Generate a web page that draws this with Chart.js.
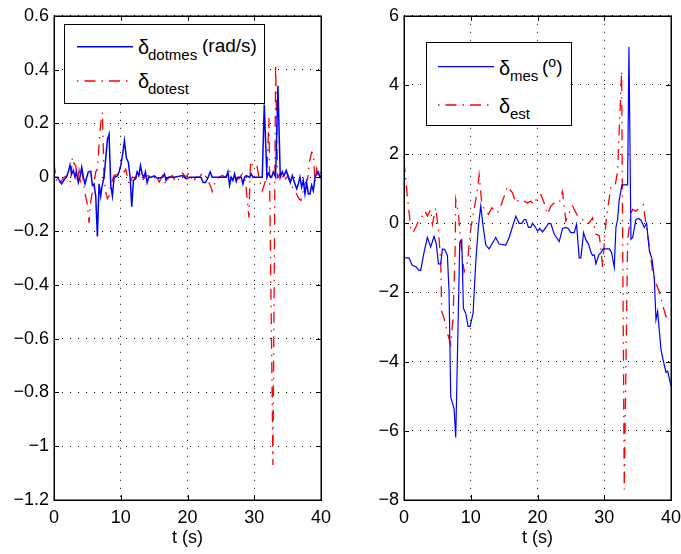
<!DOCTYPE html>
<html>
<head>
<meta charset="utf-8">
<script src="https://cdn.jsdelivr.net/npm/chart.js@4/dist/chart.umd.min.js"></script>
<style>
body { margin: 0; background: #fff; overflow: hidden; }
#wrap { position: relative; width: 681px; height: 554px; overflow: hidden; background: #fff; font-family: 'Liberation Sans', Arial, sans-serif; color: #000; }
.pane { position: absolute; top: 0; }
.leg { position: absolute; background: #fff; border: 1px solid #000; box-sizing: border-box; }
.leg svg { position: absolute; left: 0; top: 0; }
.leg span.t { position: absolute; line-height: 1; white-space: nowrap; }
</style>
</head>
<body>
<div id="wrap">
  <div class="pane" style="left:0px;width:340px;height:554px"><canvas id="left" width="340" height="554"></canvas></div>
  <div class="pane" style="left:340px;width:360px;height:554px"><canvas id="right" width="360" height="554"></canvas></div>

  <div class="leg" style="left:64px;top:24px;width:201px;height:80px">
    <svg width="201" height="80">
      <line x1="12" y1="21.7" x2="68" y2="21.7" stroke="#0000ff" stroke-width="1.5"/>
      <line x1="12" y1="56" x2="68" y2="56" stroke="#ff0000" stroke-width="1.3" stroke-dasharray="1.5 6 11 6"/>
    </svg>
    <span class="t" style="left:73px;top:12px;font-size:20px">δ</span>
    <span class="t" style="left:83px;top:21.6px;font-size:15px">dotmes</span>
    <span class="t" style="left:137px;top:11.4px;font-size:19px">(rad/s)</span>
    <span class="t" style="left:73px;top:46px;font-size:20px">δ</span>
    <span class="t" style="left:83px;top:55.8px;font-size:15px">dotest</span>
  </div>

  <div class="leg" style="left:426px;top:42px;width:146px;height:84px">
    <svg width="146" height="84">
      <line x1="11" y1="23.7" x2="67" y2="23.7" stroke="#0000ff" stroke-width="1.2"/>
      <line x1="11" y1="62" x2="67" y2="62" stroke="#ff0000" stroke-width="1.3" stroke-dasharray="1.5 6 11 6"/>
    </svg>
    <span class="t" style="left:72px;top:15px;font-size:20px">δ</span>
    <span class="t" style="left:83px;top:24.8px;font-size:15px">mes</span>
    <span class="t" style="left:115px;top:14px;font-size:19px">(<span style="font-size:14px;position:relative;top:-6px">o</span>)</span>
    <span class="t" style="left:72px;top:53.4px;font-size:20px">δ</span>
    <span class="t" style="left:83px;top:63px;font-size:15px">est</span>
  </div>
</div>

<script>
// left panel: rate signals (rad/s)
const leftMesT = [0,0.5,0.75,1.15,1.5,1.85,2.15,2.4,2.65,2.9,3.15,3.35,3.65,3.9,4.15,4.4,4.65,4.9,5.15,5.5,5.75,6,6.25,6.5,6.75,7,7.15,7.5,7.75,8,8.25,8.5,8.75,9,9.5,9.75,10,10.25,10.55,10.85,11.15,11.4,11.65,11.9,12.2,12.45,12.7,12.95,13.2,13.45,13.7,13.95,14.2,14.55,15,15.5,16.3,16.55,16.8,17.1,18,19.3,19.8,20.3,22,22.35,22.7,23.1,23.4,23.7,25.8,26.05,26.3,26.55,26.8,27.05,27.3,27.55,28.05,28.3,28.55,28.8,29.3,29.55,29.8,31.2,31.5,31.9,32.1,32.35,32.6,32.85,33.2,33.55,33.9,34.2,34.45,34.8,35.1,35.4,35.7,36.1,36.35,36.6,36.85,37.1,37.35,37.6,37.85,38.1,38.35,38.6,38.85,39.1,39.35,39.6,39.85,40]
const leftMes  = [0,0,-0.01,-0.025,-0.01,0,0.02,0.045,0.012,0.025,0,0.02,-0.02,0,0.037,0,-0.025,0,0.02,0.022,-0.03,-0.025,-0.07,-0.22,-0.025,-0.07,-0.04,0,0.07,0.14,0.16,-0.03,-0.07,0,0.005,0.02,0.043,0.08,0.135,0.07,0.055,0,-0.11,-0.012,-0.006,0.02,0.006,0.043,0.012,0,0.02,-0.02,0,0,0.005,-0.005,0,0.012,-0.012,0,0,0.006,-0.006,0,0,-0.02,-0.02,0,0.02,0,0,0.02,-0.03,0,-0.012,0.012,-0.016,0,0,-0.025,0,0.006,0,0.012,0,0,0.27,0,0.015,0.005,0,0.02,0,0.34,0,0.02,0.005,0.025,0,-0.02,0.006,-0.025,-0.043,-0.025,0,-0.037,-0.012,-0.062,-0.02,-0.062,-0.062,-0.03,-0.05,0,0.012,0.02,0,0.006]
const leftEstT = [0,0.25,0.5,0.75,1.15,1.5,2,2.5,2.75,3,3.25,3.5,3.75,4,4.25,4.5,4.75,5,5.25,5.5,5.75,6,6.25,6.5,6.75,7,7.25,7.5,7.75,8,8.25,8.5,9,9.5,10,10.5,10.75,11.25,11.75,12.25,12.75,13.25,13.75,14.25,14.75,15.25,15.75,16.25,16.75,17.25,17.75,18.25,18.75,19.25,19.75,20.25,20.8,21.3,21.8,22.3,22.8,23.2,23.5,23.7,24.2,24.7,25.2,25.7,26.2,26.7,27.2,27.7,28.2,28.7,28.9,29.2,29.4,29.5,29.9,30.4,30.7,31.2,31.6,31.9,32.2,32.8,33.2,33.5,33.8,34.1,34.4,34.7,35.1,35.7,36.2,36.7,37,37.5,38,38.3,38.6,38.85,39.1,39.35,39.6,40]
const leftEst  = [0.055,0.005,-0.025,-0.025,-0.012,0,0.006,-0.02,0.074,0.05,0.043,-0.018,0.025,-0.012,0.02,-0.037,-0.074,-0.1,-0.17,-0.09,-0.055,-0.025,0.02,0.03,0.12,0.2,0.24,0,-0.055,-0.08,-0.07,-0.03,0.007,0.01,0.04,0.02,0.03,-0.03,0,-0.005,0.018,-0.012,0.005,0.005,-0.012,0.006,-0.018,0.006,-0.025,0,0.006,-0.02,-0.006,0.015,0,0.018,-0.018,0,0,0.018,0,-0.02,-0.037,-0.053,-0.012,0,0.006,0,0.025,0.012,0,-0.006,0.012,-0.018,-0.074,-0.15,0.03,0.06,0.037,0.043,0,-0.05,-0.02,0.02,0.22,-1.07,0.42,0,0.01,-0.012,0.012,-0.006,0.006,-0.037,-0.055,-0.08,-0.086,-0.03,-0.006,0.06,0.093,0.09,-0.018,0.03,0,0.018]

// right panel: angles (deg)
const rightMesT = [0,0.75,1.25,1.75,2.25,2.5,3,3.5,4,4.5,4.85,5.15,5.5,5.75,6.1,6.5,6.75,7,7.5,7.75,8,8.35,8.65,8.9,9.25,9.6,9.9,10.35,10.75,11.15,11.5,11.85,12.25,12.75,13.25,13.75,14.25,15.25,15.75,16.25,16.75,17.25,17.65,18,18.25,18.65,19,19.25,19.65,20,20.35,20.75,21.25,21.65,22,22.5,23.25,23.75,24.25,24.6,25,25.5,25.85,26.25,26.5,26.9,27.25,27.65,28,28.25,28.5,28.75,29.15,29.5,29.85,30.75,31.1,31.5,31.75,32,32.25,32.65,33.5,33.7,34,34.25,34.75,35.15,35.5,36,36.35,36.75,37.15,37.5,37.75,38,38.5,38.75,39.25,39.5,40]
const rightMes  = [-1,-1,-1.22,-1.25,-1.36,-1.36,-0.84,-0.41,-0.68,-0.38,-0.6,-1.17,-1.17,-0.74,-0.76,-0.93,-1.98,-5.03,-5.36,-6.19,-3.89,-0.55,-0.48,-2.46,-2.6,-2.98,-2.98,-2.6,-1.12,-0.08,0.5,-0.08,-0.63,-0.74,-0.57,-0.41,-0.6,-0.63,-0.41,-0.1,0.21,0,0,0.11,0.11,-0.12,-0.12,0,-0.1,-0.22,-0.15,-0.25,-0.12,0,-0.01,-0.31,-0.53,-0.15,-0.12,-0.15,-0.27,-0.27,-0.03,-1,-1,-0.27,-0.48,-0.6,-0.84,-0.93,-0.91,-1.17,-0.93,-0.84,-0.74,-0.74,-0.84,-1.27,-0.12,0.11,0.69,1.11,1.11,5.1,-0.46,-0.41,0.11,0.14,0.09,-0.12,0,-0.79,-1.03,-1.6,-2.79,-2.55,-3.65,-3.89,-4.31,-4.27,-4.7]
const rightEstT = [0,0.5,1,1.35,1.75,2.25,2.75,3.15,3.5,4,4.25,4.75,5.15,5.5,5.65,6,6.5,7,7.35,7.65,7.75,8.15,8.5,9,9.5,10,10.5,11,11.25,11.65,12.15,12.65,13.15,14,14.5,15,15.5,16.25,16.75,17.25,18,18.5,19,19.5,20,20.5,21,21.5,22,22.5,23.25,23.75,24.25,24.75,25.25,26,26.75,27.25,27.75,28.25,28.75,29.25,29.5,29.75,30,30.25,30.65,31,31.65,32,32.6,33,33.5,34,34.25,34.75,35.25,35.85,36.25,36.75,37.25,37.75,38.25,38.75,39.25,39.75,40]
const rightEst  = [1.8,0.78,-0.12,-0.27,-0.12,0.11,0.21,0.35,0.21,0.4,-0.03,0.45,-0.17,-1.12,-2.55,-2.74,-3.17,-3.5,-2.74,-0.84,0.69,0.3,-0.55,-1.41,-1.12,-0.17,0.4,0.97,1.4,0.59,0.35,0.26,0.45,0.3,0.5,0.78,1.07,0.88,0.59,0.69,0.64,0.59,0.64,0.54,0.78,0.83,0.59,0.26,0.5,0.59,0.59,0.92,0.07,0.3,0.5,0.21,0.11,-0.03,0.02,0.16,-0.31,-0.36,-0.74,-1.27,-0.55,0.02,0.59,1.07,1.11,1.5,4.4,-7.7,-0.5,0.3,0.4,0.35,0.45,0.54,-0.03,-0.65,-1.41,-1.74,-1.98,-2.36,-2.7,-2.65,-2.7]

const xTicks = [0, 10, 20, 30, 40]

Chart.defaults.font.family = "'Liberation Sans', Arial, sans-serif"
Chart.defaults.font.size = 18
Chart.defaults.color = '#000'

function pts(t, v) {
	return t.map((x, i) => ({x: x, y: v[i]}))
}

function fmt(v) {
	const r = Math.round(v * 10) / 10
	if (r === 0) return '0'
	return (r < 0 ? '\u2212' : '') + Math.abs(r)
}

// matlab style box with inward ticks
const boxPlugin = {
	id: 'box',
	afterDraw(chart) {
		const {ctx, chartArea: a, scales} = chart
		ctx.save()
		ctx.strokeStyle = '#000'
		ctx.lineWidth = 1
		ctx.beginPath()
		scales.x.ticks.forEach(t => {
			const px = Math.round(scales.x.getPixelForValue(t.value)) + 0.5
			ctx.moveTo(px, a.bottom); ctx.lineTo(px, a.bottom - 5)
			ctx.moveTo(px, a.top); ctx.lineTo(px, a.top + 5)
		})
		scales.y.ticks.forEach(t => {
			const py = Math.round(scales.y.getPixelForValue(t.value)) + 0.5
			ctx.moveTo(a.left, py); ctx.lineTo(a.left + 5, py)
			ctx.moveTo(a.right, py); ctx.lineTo(a.right - 5, py)
		})
		ctx.stroke()
		ctx.lineWidth = 1.5
		ctx.strokeRect(Math.round(a.left) + 0.25, Math.round(a.top) + 0.25, Math.round(a.right - a.left), Math.round(a.bottom - a.top))
		ctx.restore()
	}
}

function makeChart(id, mes, est, yMin, yMax, yStep, yWidth, padRight, blueWidth) {
	return new Chart(document.getElementById(id), {
		type: 'line',
		data: {
			datasets: [
				{
					data: mes,
					borderColor: '#0000ff',
					borderWidth: blueWidth,
					pointRadius: 0,
					tension: 0
				},
				{
					data: est,
					borderColor: '#ff0000',
					borderWidth: 1.3,
					borderDash: [11, 6, 1.5, 6],
					pointRadius: 0,
					tension: 0
				}
			]
		},
		options: {
			responsive: false,
			animation: false,
			events: [],
			layout: {padding: {top: 13, right: padRight, left: 0, bottom: 0}},
			plugins: {legend: {display: false}, tooltip: {enabled: false}},
			scales: {
				x: {
					type: 'linear',
					min: 0, max: 40,
					afterBuildTicks: s => { s.ticks = xTicks.map(v => ({value: v})) },
					ticks: {padding: 7, maxRotation: 0, callback: v => String(v)},
					grid: {color: '#000', lineWidth: 1, drawTicks: false},
					border: {display: false, dash: [1, 7]},
					title: {display: true, text: 't (s)', font: {size: 18}, padding: {top: 0, bottom: 5}},
					afterFit: s => { s.height = 54 }
				},
				y: {
					min: yMin, max: yMax,
					ticks: {stepSize: yStep, padding: 5, callback: v => fmt(v)},
					grid: {color: '#000', lineWidth: 1, drawTicks: false},
					border: {display: false, dash: [1, 7]},
					afterFit: s => { s.width = yWidth }
				}
			}
		},
		plugins: [boxPlugin]
	})
}

const leftChart = makeChart('left', pts(leftMesT, leftMes), pts(leftEstT, leftEst), -1.2, 0.6, 0.2, 54, 19, 1.5)
const rightChart = makeChart('right', pts(rightMesT, rightMes), pts(rightEstT, rightEst), -8, 6, 2, 64, 29, 1.2)
</script>
</body>
</html>
